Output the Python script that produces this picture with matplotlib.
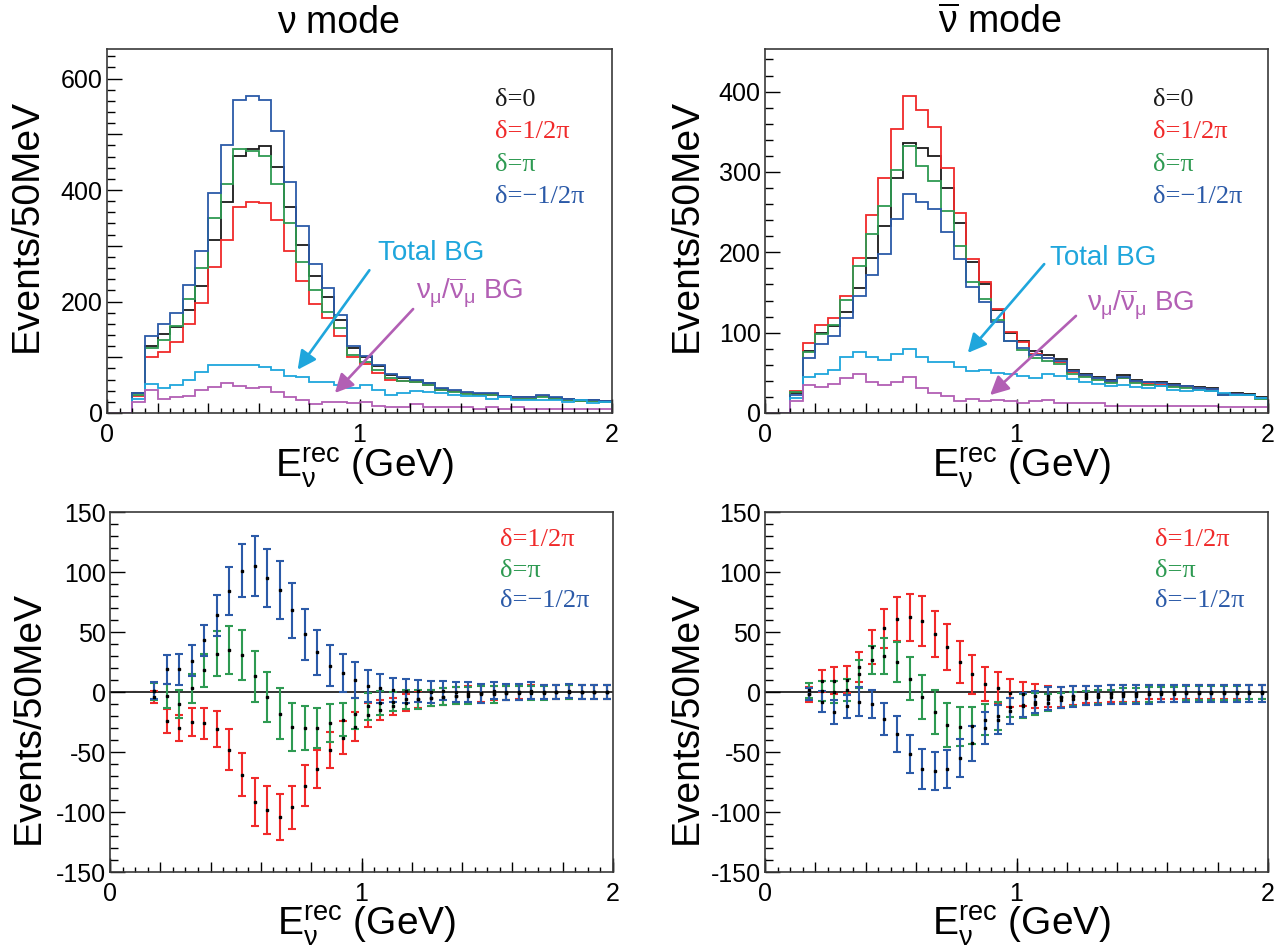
import numpy as np
import matplotlib
matplotlib.use("Agg")
import matplotlib.pyplot as plt
from matplotlib.ticker import MultipleLocator, FuncFormatter

plt.rcParams['font.family'] = ['Liberation Sans', 'DejaVu Sans']
plt.rcParams['mathtext.fontset'] = 'custom'
plt.rcParams['mathtext.rm'] = 'Liberation Sans'
plt.rcParams['mathtext.it'] = 'Liberation Sans'
plt.rcParams['mathtext.bf'] = 'Liberation Sans:bold'

# ---------------- data ----------------
bin_lo = 0.1          # first filled bin lower edge (GeV)
bin_w = 0.05          # 50 MeV bins
# top panels: 38 bins from 0.10 to 2.00 GeV
nu_d0 = [35,120,141,154,185,227,311,379,461,473,479,441,370,302,246,208,167,116,100,85,
         69,63,58,53,43,40,36,34,34,30,28,28,31,27,25,23,23,21]
nu_dp2 = [30,100,110,128,160,197,262,311,370,378,377,346,291,237,196,170,138,100,88,71,
          60,57,56,51,42,39,35,33,33,29,27,27,30,26,24,22,22,20]
nu_dpi = [33,116,131,156,204,260,349,411,474,470,461,411,340,271,220,182,152,104,91,77,
          63,57,55,50,41,38,34,32,32,28,26,26,29,25,23,21,21,19]
nu_dm2 = [36,139,160,180,229,291,395,480,562,569,562,505,415,335,268,224,175,120,102,86,
          70,65,59,54,44,41,37,35,35,31,29,29,32,28,26,24,24,22]
nu_totbg = [25,52,44,50,59,74,87,86,86,86,83,77,66,64,56,56,50,44,50,41,
            32,35,39,38,35,32,31,30,26,28,23,24,24,23,20,23,18,20]
nu_numubg = [20,42,26,28,30,42,46,53,48,44,46,38,29,23,17,20,20,18,20,12,
             11,11,17,11,11,10,10,8,11,8,11,8,8,8,8,8,8,8]

anu_d0 = [25,77,100,108,126,156,193,233,292,336,330,320,280,236,188,161,128,100,89,77,
          72,67,54,49,45,41,47,41,39,38,36,34,32,31,24,25,24,20]
anu_dp2 = [28,87,110,118,146,193,247,293,353,395,377,356,305,249,192,163,130,101,88,74,
           69,64,51,46,42,38,44,38,36,35,33,32,30,29,23,24,23,19]
anu_dpi = [26,76,98,109,141,183,223,258,303,332,308,289,251,208,163,142,116,89,79,69,
           65,61,49,45,41,37,43,37,35,34,32,31,29,28,22,23,22,18]
anu_dm2 = [23,69,86,96,118,146,172,198,241,272,262,254,225,192,157,138,113,90,81,72,
           69,65,52,47,43,40,45,40,38,37,35,33,31,30,23,24,23,19]
anu_totbg = [19,45,48,54,70,76,70,66,73,80,70,63,63,57,52,54,50,49,46,44,
             48,46,42,39,36,34,35,32,31,34,29,28,29,27,25,23,22,19]
anu_numubg = [15,35,32,36,44,48,38,35,38,45,31,25,21,15,17,15,16,15,13,15,
              16,13,12,12,12,9,9,9,9,9,9,9,9,9,7,7,7,7]

# bottom panels: 37 points, first at 0.175 GeV
diff_x0 = 0.175
nu_diff_p2 = [-4,-24,-30,-25,-26,-31,-48,-69,-92,-98,-104,-96,-78,-64,-48,-38,-29,-19,-15,-12,
              -9,-6,-5,-4,-3,-2,-1,-1,-1,0,0,0,0,0,0,0,0]
nu_err_p2 = [5,10,11,12,13,15,17,18,20,20,19,18,17,16,15,14,12,10,8,7,
             7,7,7,7,7,7,7,6,6,6,6,6,6,6,6,6,6]
nu_diff_pi = [0.6,-3,-10,3,18,32,35,31,13,-4,-18,-29,-30,-30,-26,-23,-18,-12,-9,-8,
              -6,-6,-5,-4,-3,-3,-2,-2,-1,-1,-1,-1,0,0,0,0,0]
nu_err_pi = [7,10,12,12,14,19,20,21,21,21,21,20,18,17,16,14,13,11,10,8,
             8,8,7,7,7,7,7,7,6,6,6,6,6,6,6,6,6]
nu_diff_m2 = [1,19,19,26,43,64,84,101,105,95,85,68,48,33,22,16,10,5,3,2,
              1,1,0,1,0,0,-1,1,0,0,1,0,0,1,0,0,0]
nu_err_m2 = [7,12,13,13,13,17,20,22,25,24,24,23,21,19,17,16,15,13,12,10,
             10,9,9,8,8,8,8,7,7,7,7,6,6,6,6,6,6]

anu_diff_p2 = [-2,9,9.5,10.4,20.7,37.6,53,60.8,62.2,59.2,48.2,37.6,25.2,14.6,6.7,3.4,-1,-2,-3.5,-3.5,
               -4,-3,-2,-2,-1,-1,-1,0,0,0,0,0,0,0,0,0,0]
anu_err_p2 = [6,9,11,11.5,12.6,14,16.4,18.2,19.3,20.7,19.2,19.3,17.7,16,14,13,11.5,10,9.8,8.7,
              8.5,7.7,7,7,7,7,7,6,6,6,6,6,6,6,6,6,6]
anu_diff_pi = [1.4,1,0,1.5,15,26.6,30,25.2,11,-4.2,-16.5,-27.5,-28.9,-28.3,-23.3,-20,-12.6,-11.5,-10,-9,
               -7,-6,-5,-4,-4,-3,-3,-2,-2,-2,-1,-1,-1,-1,-1,0,0]
anu_err_pi = [6.3,8.4,9,9,12,12,15,16.5,18,18.6,18.2,18,16.4,15.4,12.9,12,8,10,9,7,
              6,6,6,6,6,6,6,6,6,6,6,6,6,6,6,6,6]
anu_diff_m2 = [-2,-8,-17,-12,-8,-10,-22.7,-35,-51.9,-64.2,-65.9,-64,-55,-42.9,-30.3,-23,-16,-10.7,-8.4,-5.6,
               -4.5,-3.6,-3,-3,-2,-2,-2,-2,-1,-1,-1,-1,-1,-1,-1,-1,-1]
anu_err_m2 = [5,8.5,10,9.5,11.8,12,13.3,14.6,16,17,16,16,15.8,14.7,13.3,12,11,10,9,9.8,
              9,9,8,8,8,8,8,8,7,7,7,7,7,7,7,7,7]

leg_top = ['\u03b4=0', '\u03b4=1/2\u03c0', '\u03b4=\u03c0', '\u03b4=\u22121/2\u03c0']
leg_bot = ['\u03b4=1/2\u03c0', '\u03b4=\u03c0', '\u03b4=\u22121/2\u03c0']

C_BLACK = '#1a1a1a'
C_RED = '#f02a2a'
C_GREEN = '#2e9a52'
C_BLUE = '#2b5aa8'
C_LBLUE = '#1fa6dc'
C_PURPLE = '#b25fb4'

# ---------------- figure ----------------
W, H = 1274, 951
fig = plt.figure(figsize=(W / 100, H / 100), dpi=100)


def ax_at(l, r, t, b):
    return fig.add_axes([l / W, 1 - b / H, (r - l) / W, (b - t) / H])


def style(ax, ymajor, yminor, ylabstep):
    for s in ax.spines.values():
        s.set_linewidth(1.2)
        s.set_color('#3a3a3a')
    ax.set_xlim(0, 2)
    ax.xaxis.set_major_locator(MultipleLocator(0.2))
    ax.xaxis.set_minor_locator(MultipleLocator(0.05))
    ax.xaxis.set_major_formatter(FuncFormatter(
        lambda v, p: ('%d' % round(v)) if abs(v - round(v)) < 1e-6 else ''))
    ax.yaxis.set_major_locator(MultipleLocator(ymajor))
    ax.yaxis.set_minor_locator(MultipleLocator(yminor))
    ax.yaxis.set_major_formatter(FuncFormatter(
        lambda v, p: ('%d' % round(v)) if abs(v / ylabstep - round(v / ylabstep)) < 1e-6 else ''))
    ax.tick_params(axis='x', which='major', direction='in', length=7, width=1.0,
                   labelsize=18, pad=7, top=False)
    ax.tick_params(axis='x', which='minor', direction='in', length=3.6, width=1.0, top=False)
    ax.tick_params(axis='y', which='major', direction='in', length=11, width=1.0,
                   labelsize=18, pad=3, right=False)
    ax.tick_params(axis='y', which='minor', direction='in', length=6, width=1.0, right=False)
    sec = ax.secondary_xaxis('bottom')
    sec.set_xticks([0, 1, 2])
    sec.tick_params(direction='in', length=10, width=1.0, labelbottom=False)
    sec.spines['bottom'].set_visible(False)
    ax.set_xlabel(r'$\mathrm{E_{\nu}^{rec}}$ (GeV)', fontsize=28)
    ax.set_ylabel('Events/50MeV', fontsize=28)


def hist_panel(ax, series, bg, numu, ymax):
    edges = np.arange(0, 2.0 + 1e-9, bin_w)
    nlead = int(round(bin_lo / bin_w))
    for vals, c in zip(series, [C_BLACK, C_RED, C_GREEN, C_BLUE]):
        v = np.concatenate([np.zeros(nlead), vals])
        ax.stairs(v, edges, color=c, lw=1.3)
    for vals, c in [(bg, C_LBLUE), (numu, C_PURPLE)]:
        v = np.concatenate([np.zeros(nlead), vals])
        ax.stairs(v, edges, color=c, lw=1.3)
    ax.set_ylim(0, ymax)


def diff_panel(ax, diffs, errs):
    ax.axhline(0, color='#222222', lw=1.3, zorder=1)
    for d, e, c in zip(diffs, errs, [C_RED, C_GREEN, C_BLUE]):
        x = diff_x0 + bin_w * np.arange(len(d))
        ax.errorbar(x, d, yerr=e, fmt='none', ecolor=c, elinewidth=1.5,
                    capsize=2.8, capthick=1.5, zorder=2)
        ax.plot(x, d, 's', ms=1.6, color='k', zorder=3)
    ax.set_ylim(-150, 150)


ax_tl = ax_at(107, 612, 49, 413)
ax_tr = ax_at(765, 1268, 49, 413)
ax_bl = ax_at(110, 613, 512, 872)
ax_br = ax_at(765, 1268, 512, 872)

hist_panel(ax_tl, [nu_d0, nu_dp2, nu_dpi, nu_dm2], nu_totbg, nu_numubg, 653)
hist_panel(ax_tr, [anu_d0, anu_dp2, anu_dpi, anu_dm2], anu_totbg, anu_numubg, 453)
diff_panel(ax_bl, [nu_diff_p2, nu_diff_pi, nu_diff_m2], [nu_err_p2, nu_err_pi, nu_err_m2])
diff_panel(ax_br, [anu_diff_p2, anu_diff_pi, anu_diff_m2], [anu_err_p2, anu_err_pi, anu_err_m2])

style(ax_tl, 100, 20, 200)
style(ax_tr, 100, 20, 100)
style(ax_bl, 50, 10, 50)
style(ax_br, 50, 10, 50)

ax_tl.yaxis.set_label_coords(-0.123, 0.516)
ax_tr.yaxis.set_label_coords(-0.119, 0.516)
ax_bl.yaxis.set_label_coords(-0.125, 0.43)
ax_br.yaxis.set_label_coords(-0.119, 0.43)
for ax in (ax_tl, ax_tr, ax_bl, ax_br):
    ax.xaxis.set_label_coords(0.51, -0.088)

# titles
fig.text(338 / W, 1 - 23 / H, '\u03bd mode', ha='center', va='center', fontsize=27)
fig.text(1000 / W, 1 - 23 / H, r'$\overline{\nu}$ mode', ha='center', va='center', fontsize=27)

# legends
serif = ['Liberation Serif', 'DejaVu Serif']
for x0 in (495, 1153):
    for i, (t, c) in enumerate(zip(leg_top, [C_BLACK, C_RED, C_GREEN, C_BLUE])):
        fig.text(x0 / W, 1 - (100 + 32.3 * i) / H, t, color=c, fontsize=19,
                 family=serif, ha='left', va='center')
for x0 in (500, 1155):
    for i, (t, c) in enumerate(zip(leg_bot, [C_RED, C_GREEN, C_BLUE])):
        fig.text(x0 / W, 1 - (540 + 30.7 * i) / H, t, color=c, fontsize=19,
                 family=serif, ha='left', va='center')


def note(text, xy_text, c):
    fig.text(xy_text[0] / W, 1 - xy_text[1] / H, text, color=c, fontsize=20,
             ha='left', va='center')


def arrow(p0, p1, c):
    fig.add_artist(matplotlib.patches.FancyArrowPatch(
        (p0[0] / W, 1 - p0[1] / H), (p1[0] / W, 1 - p1[1] / H),
        transform=fig.transFigure, arrowstyle='-|>', mutation_scale=28,
        color=c, lw=1.9))


note('Total BG', (378, 253), C_LBLUE)
arrow((371, 268), (296, 372), C_LBLUE)
note(r'$\nu_{\mu}/\overline{\nu}_{\mu}$ BG', (416, 293), C_PURPLE)
arrow((415, 307), (333, 395), C_PURPLE)

note('Total BG', (1050, 258), C_LBLUE)
arrow((1046, 262), (966, 355), C_LBLUE)
note(r'$\nu_{\mu}/\overline{\nu}_{\mu}$ BG', (1087, 305), C_PURPLE)
arrow((1078, 314), (988, 397), C_PURPLE)

fig.savefig('out.png', dpi=100)
